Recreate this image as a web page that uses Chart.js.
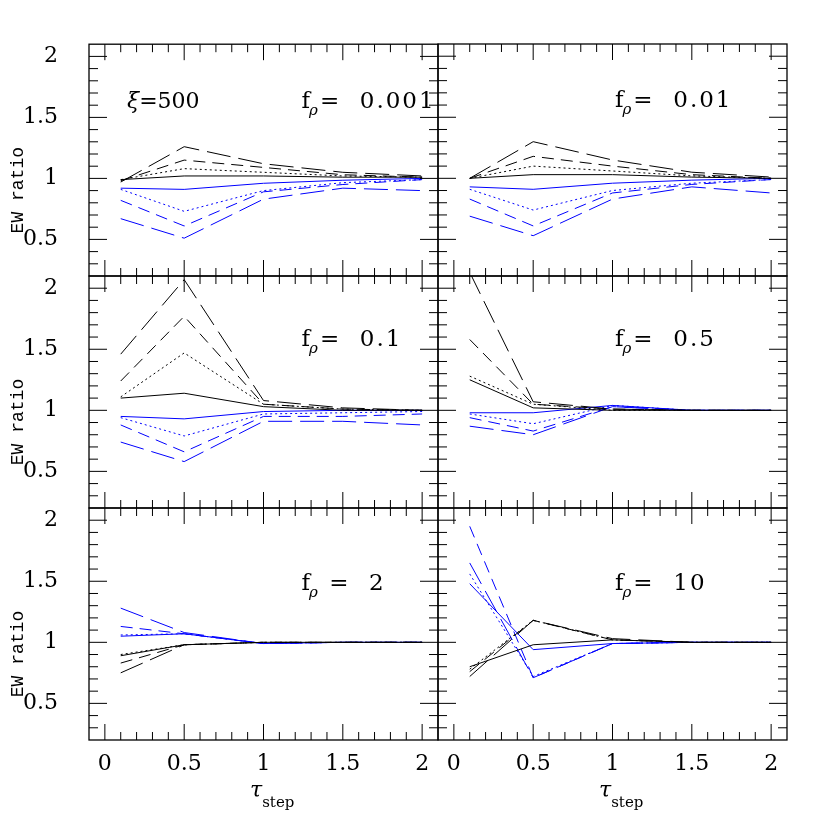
<!DOCTYPE html>
<html>
<head>
<meta charset="utf-8">
<script src="https://cdn.jsdelivr.net/npm/chart.js@4.4.1/dist/chart.umd.min.js"></script>
<style>
html, body { margin: 0; padding: 0; background: #fff; }
#wrap { position: relative; width: 830px; height: 830px; }
#wrap canvas { position: absolute; left: 0; top: 0; }
</style>
</head>
<body>
<div id="wrap"></div>
<script>
// x positions of the model runs (tau_step)
const tauStep = [0.1, 0.5, 1, 1.5, 2];
const xTickValues = [0, 0.5, 1, 1.5, 2];
const yTickValues = [0.5, 1, 1.5, 2];

// rows: solid, dotted, short dash, long dash
const black0001 = [
  [0.99, 1.02, 1.02, 1.01, 1.01],
  [0.99, 1.08, 1.05, 1.02, 1.01],
  [0.98, 1.15, 1.09, 1.03, 1.01],
  [0.97, 1.26, 1.12, 1.05, 1.02]
];
const blue0001 = [
  [0.92, 0.91, 0.96, 0.985, 1.0],
  [0.91, 0.73, 0.90, 0.965, 0.99],
  [0.82, 0.61, 0.89, 0.95, 0.99],
  [0.67, 0.51, 0.83, 0.92, 0.90]
];
const black001 = [
  [1.0, 1.03, 1.03, 1.01, 1.0],
  [1.0, 1.10, 1.06, 1.02, 1.0],
  [1.0, 1.18, 1.10, 1.03, 1.0],
  [1.0, 1.30, 1.15, 1.05, 1.01]
];
const blue001 = [
  [0.93, 0.91, 0.96, 0.985, 1.0],
  [0.91, 0.74, 0.90, 0.96, 0.99],
  [0.83, 0.61, 0.88, 0.95, 0.99],
  [0.69, 0.53, 0.83, 0.93, 0.88]
];
const black01 = [
  [1.10, 1.14, 1.03, 1.0, 1.0],
  [1.11, 1.47, 1.05, 1.01, 1.0],
  [1.24, 1.77, 1.05, 1.01, 1.0],
  [1.46, 2.07, 1.08, 1.02, 1.0]
];
const blue01 = [
  [0.95, 0.93, 0.99, 1.0, 1.0],
  [0.94, 0.79, 0.97, 0.98, 0.99],
  [0.88, 0.66, 0.95, 0.95, 0.97],
  [0.74, 0.58, 0.91, 0.91, 0.88]
];
const black05 = [
  [1.25, 1.02, 1.0, 1.0, 1.0],
  [1.28, 1.05, 1.0, 1.0, 1.0],
  [1.58, 1.05, 1.01, 1.0, 1.0],
  [2.13, 1.07, 1.01, 1.0, 1.0]
];
const blue05 = [
  [0.98, 0.98, 1.04, 1.0, 1.0],
  [0.97, 0.89, 1.04, 1.0, 1.0],
  [0.94, 0.83, 1.03, 1.0, 1.0],
  [0.87, 0.80, 1.03, 1.0, 1.0]
];
const black2 = [
  [0.89, 0.98, 1.0, 1.0, 1.0],
  [0.90, 0.98, 1.0, 1.0, 1.0],
  [0.83, 0.98, 1.0, 1.0, 1.0],
  [0.75, 0.98, 1.0, 1.0, 1.0]
];
const blue2 = [
  [1.05, 1.07, 0.99, 1.0, 1.0],
  [1.06, 1.07, 0.99, 1.0, 1.0],
  [1.13, 1.07, 0.99, 1.0, 1.0],
  [1.28, 1.08, 0.99, 1.0, 1.0]
];
const black10 = [
  [0.80, 0.98, 1.02, 1.0, 1.0],
  [0.78, 1.18, 1.02, 1.0, 1.0],
  [0.76, 1.18, 1.02, 1.0, 1.0],
  [0.72, 1.18, 1.03, 1.0, 1.0]
];
const blue10 = [
  [1.48, 0.94, 0.99, 1.0, 1.0],
  [1.56, 0.72, 0.99, 1.0, 1.0],
  [1.95, 0.71, 0.99, 1.0, 1.0],
  [1.65, 0.71, 0.99, 1.0, 1.0]
];

const fLabels = ['=  0.001', '=  0.01', '=  0.1', '=  0.5', ' =  2', '=  10'];

const dashes = [[], [2, 3], [12, 7], [24, 8]];
const serif = '"DejaVu Serif"';

// panel frames in page pixels
const colL = [89, 438], colR = [438, 787];
const rowT = [44, 276, 508], rowB = [276, 508, 740];

function drawF(ctx, x, y, rest) {
  ctx.font = '23px ' + serif;
  ctx.fillText('f', x, y);
  let w = ctx.measureText('f').width;
  ctx.font = 'italic 15px ' + serif;
  ctx.fillText('ρ', x + w - 1, y + 7);
  w += ctx.measureText('ρ').width;
  ctx.font = '23px ' + serif;
  ctx.letterSpacing = '2px';
  ctx.fillText(rest, x + w + 1, y);
  ctx.letterSpacing = '0px';
}

const panelDeco = {
  id: 'panelDeco',
  afterDatasetsDraw(chart, args, o) {
    const ctx = chart.ctx, a = chart.chartArea;
    const xs = chart.scales.x, ys = chart.scales.y;
    ctx.save();
    ctx.strokeStyle = '#000';
    ctx.lineWidth = 1;
    ctx.beginPath();
    for (let i = 0; i <= 20; i++) {
      const px = xs.getPixelForValue(i / 10);
      const len = i % 5 === 0 ? 16 : 8;
      ctx.moveTo(px, a.bottom); ctx.lineTo(px, a.bottom - len);
      ctx.moveTo(px, a.top); ctx.lineTo(px, a.top + len);
    }
    for (let i = 3; i <= 20; i++) {
      const py = ys.getPixelForValue(i / 10);
      const len = i % 5 === 0 ? 18 : 9;
      ctx.moveTo(a.left, py); ctx.lineTo(a.left + len, py);
      ctx.moveTo(a.right, py); ctx.lineTo(a.right - len, py);
    }
    ctx.stroke();
    ctx.lineWidth = 1.3;
    ctx.strokeRect(a.left, a.top, a.right - a.left, a.bottom - a.top);

    ctx.fillStyle = '#000';
    ctx.textAlign = 'left';
    ctx.textBaseline = 'alphabetic';
    drawF(ctx, xs.getPixelForValue(o.fx), ys.getPixelForValue(o.fy), o.text);

    if (o.xi) {
      const x0 = xs.getPixelForValue(0.14), y0 = ys.getPixelForValue(1.58);
      ctx.font = 'italic 22px ' + serif;
      ctx.fillText('ξ', x0, y0);
      const w = ctx.measureText('ξ').width;
      ctx.font = '22px ' + serif;
      ctx.fillText('=500', x0 + w, y0);
    }
    if (o.yTitle) {
      ctx.save();
      ctx.translate(23, a.top + 146);
      ctx.rotate(-Math.PI / 2);
      ctx.textAlign = 'center';
      ctx.font = '18px "Liberation Mono"';
      ctx.fillText('EW ratio', 0, 0);
      ctx.restore();
    }
    if (o.xTitle) {
      const x0 = a.left + 161;
      ctx.font = 'italic 22px ' + serif;
      ctx.fillText('τ', x0, 797);
      const w = ctx.measureText('τ').width;
      ctx.font = '15px ' + serif;
      ctx.fillText('step', x0 + w, 807);
    }
    ctx.restore();
  }
};

function makeSets(blackRows, blueRows) {
  const sets = [];
  [[blackRows, '#000000'], [blueRows, '#0000ff']].forEach(([rows, color]) => {
    rows.forEach((row, k) => {
      sets.push({
        data: row.map((v, i) => ({ x: tauStep[i], y: v })),
        borderColor: color,
        borderDash: dashes[k],
        borderWidth: 1,
        pointRadius: 0,
        fill: false,
        tension: 0
      });
    });
  });
  return sets;
}

const panels = [
  [black0001, blue0001], [black001, blue001],
  [black01, blue01], [black05, blue05],
  [black2, blue2], [black10, blue10]
];

panels.forEach(([bk, bl], n) => {
  const col = n % 2, row = Math.floor(n / 2);
  const canvas = document.createElement('canvas');
  canvas.width = 830; canvas.height = 830;
  document.getElementById('wrap').appendChild(canvas);
  const tickFont = { family: 'DejaVu Serif', size: 22 };
  // the axis boxes that carry labels reach to the canvas edge, so labels are not clipped
  const yW = col === 0 ? colL[0] : 0;
  const xH = row === 2 ? 830 - rowB[2] : 0;
  new Chart(canvas, {
    type: 'line',
    data: { datasets: makeSets(bk, bl) },
    plugins: [panelDeco],
    options: {
      responsive: false,
      animation: false,
      devicePixelRatio: 1,
      layout: { padding: { left: colL[col] - yW, right: 830 - colR[col], top: rowT[row], bottom: 830 - rowB[row] - xH } },
      plugins: {
        legend: { display: false },
        tooltip: { enabled: false },
        panelDeco: {
          text: fLabels[n],
          fx: col === 0 ? 1.24 : 1.016,
          fy: [1.58, 1.53, 1.43][row],
          xi: n === 0,
          yTitle: col === 0,
          xTitle: row === 2
        }
      },
      scales: {
        x: {
          type: 'linear', min: -0.1, max: 2.1,
          grid: { display: false, drawTicks: false },
          border: { display: false },
          afterBuildTicks: s => { s.ticks = xTickValues.map(v => ({ value: v })); },
          afterFit: s => { s.height = xH; },
          ticks: {
            display: row === 2, padding: 11, color: '#000', font: tickFont,
            autoSkip: false, maxRotation: 0, callback: v => String(v)
          }
        },
        y: {
          type: 'linear', min: 0.2, max: 2.1,
          grid: { display: false, drawTicks: false },
          border: { display: false },
          afterBuildTicks: s => { s.ticks = yTickValues.map(v => ({ value: v })); },
          afterFit: s => { s.width = yW; },
          ticks: {
            display: col === 0, padding: 31, color: '#000', font: tickFont,
            callback: v => String(v)
          }
        }
      }
    }
  });
});
</script>
</body>
</html>
